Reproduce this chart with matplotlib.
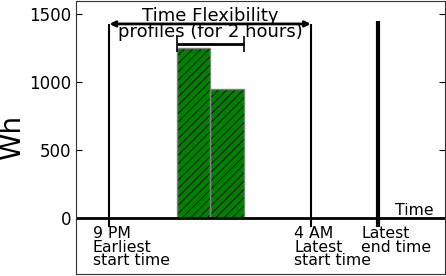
import matplotlib.pyplot as plt

plt.rcParams["hatch.linewidth"] = 0.6

# time slots (x units), bar energy values
bar_slots = [3, 4]
bar_energy = [1250, 950]

earliest_start = 1
latest_start = 7
latest_end = 9
flex_level = 1430
profile_level = 1280

time_labels = ["9 PM\nEarliest\nstart time", "4 AM\nLatest\nstart time", "Latest\nend time"]
label_pos = [0.5, 6.5, 8.5]

fig = plt.figure(figsize=(4.46, 2.76), dpi=100)
ax = fig.add_axes([0.170, 0.007, 0.828, 0.99])

# hatched fill, then grey outline on top
ax.bar(bar_slots, bar_energy, width=1, align="edge", color="green",
       edgecolor="black", hatch="////", linewidth=0)
ax.bar(bar_slots, bar_energy, width=1, align="edge", fill=False,
       edgecolor="gray", linewidth=1)

ax.axhline(0, color="black", lw=2)
ax.vlines([earliest_start, latest_start], -65, flex_level, color="black", lw=1.5)
ax.vlines([latest_end], -65, flex_level + 20, color="black", lw=3)

ax.annotate("", xy=(earliest_start, flex_level), xytext=(latest_start, flex_level),
            arrowprops=dict(arrowstyle="<->", lw=2, color="black",
                            shrinkA=0, shrinkB=0, mutation_scale=8))
ax.errorbar([4], [profile_level], xerr=[1], color="black", lw=2, capsize=6,
            capthick=1.2)

ax.text(4, flex_level, "Time Flexibility\nprofiles (for 2 hours)", ha="center",
        va="center", fontsize=13, linespacing=0.85)

for x, lab in zip(label_pos, time_labels):
    ax.text(x, -60, lab, ha="left", va="top", fontsize=11.3, linespacing=0.85)
ax.text(10.65, 5, "Time", ha="right", va="bottom", fontsize=11.3)

ax.set_xlim(0, 11)
ax.set_ylim(-410, 1600)
ax.set_xticks([])
ax.set_yticks([0, 500, 1000, 1500])
ax.tick_params(axis="y", direction="in", right=True, labelsize=12, length=4)
ax.set_ylabel("Wh", fontsize=20, labelpad=2)
for s in ax.spines.values():
    s.set_color("#333333")

fig.savefig("out.png", dpi=100)
